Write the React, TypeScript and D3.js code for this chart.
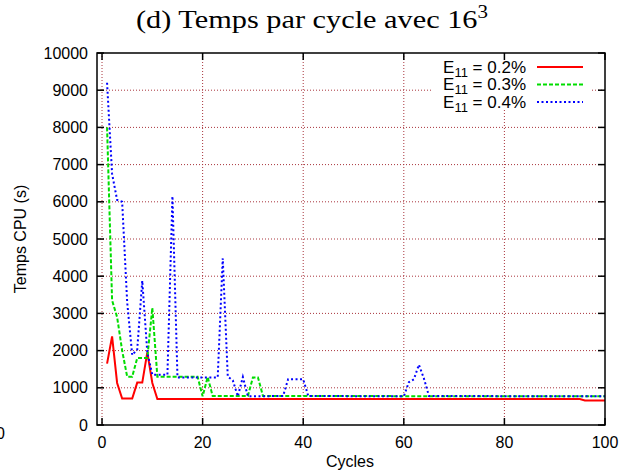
import React from 'react';
import * as d3 from 'd3';

// values (cycle, CPU seconds) at the break points of each curve
const redCycles = [1, 2, 3, 4, 6, 7, 8, 9, 10, 11, 95, 96, 100];
const redTimes = [1650, 2380, 1130, 710, 710, 1140, 1140, 1950, 1130, 700, 700, 660, 660];

const greenCycles = [1, 2, 3, 4, 5, 6, 7, 8, 9, 10, 11, 19, 20, 21, 22, 29, 30, 31, 32, 100];
const greenTimes = [8000, 3350, 2900, 2000, 1300, 1300, 1800, 1800, 1800, 3150, 1300, 1300, 770, 1290, 780, 780, 1280, 1280, 780, 770];

const blueCycles = [1, 2, 3, 4, 5, 6, 7, 8, 9, 10, 13, 14, 15, 23, 24, 25, 26, 27, 28, 29, 36, 37, 40, 41, 60, 61, 62, 63, 64, 65, 100];
const blueTimes = [9200, 6750, 6050, 6000, 3300, 1880, 2030, 3880, 1950, 1350, 1350, 6150, 1280, 1280, 4480, 1300, 1200, 770, 1290, 770, 780, 1230, 1230, 780, 770, 1150, 1230, 1620, 1250, 780, 770];

const xTicks = [0, 20, 40, 60, 80, 100];
const yTicks = [0, 1000, 2000, 3000, 4000, 5000, 6000, 7000, 8000, 9000, 10000];
const legendLabels = ['0.2%', '0.3%', '0.4%'];

const W = 633;
const H = 472;
const left = 97, right = 605, top = 53, bottom = 425;

const series = [
  { xs: redCycles, ys: redTimes, color: '#ff0000', dash: undefined as string | undefined, width: 2 },
  { xs: greenCycles, ys: greenTimes, color: '#00dd00', dash: '4,2', width: 2 },
  { xs: blueCycles, ys: blueTimes, color: '#0000ff', dash: '2,2.5', width: 2 },
];

export default function App() {
  const x = d3.scaleLinear().domain([-1, 100]).range([left, right]);
  const y = d3.scaleLinear().domain([0, 10000]).range([bottom, top]);
  const line = d3.line<[number, number]>().x(d => x(d[0])).y(d => y(d[1]));

  const sans = 'Liberation Sans, Arial, sans-serif';
  const gridColor = '#a8343c';

  return (
    <svg width={W} height={H} style={{ position: 'absolute', left: 0, top: 0, background: '#fff' }}>
      <rect x={0} y={0} width={W} height={H} fill="#fff" />

      {/* title */}
      <text x={312} y={28} textAnchor="middle" fontFamily="Liberation Serif, Times New Roman, serif" fontSize={26} fill="#000"
        textLength={352} lengthAdjust="spacingAndGlyphs">
        (d) Temps par cycle avec 16<tspan dy={-10} fontSize={18}>3</tspan>
      </text>

      {/* grid */}
      {yTicks.slice(1, -1).map(t => (
        <line key={'gy' + t} x1={left} x2={right} y1={y(t)} y2={y(t)} stroke={gridColor} strokeWidth={1} strokeDasharray="1,2" />
      ))}
      {xTicks.slice(0, -1).map(t => (
        <line key={'gx' + t} x1={x(t)} x2={x(t)} y1={top} y2={bottom} stroke={gridColor} strokeWidth={1} strokeDasharray="1,2" />
      ))}

      {/* curves */}
      {series.map((s, i) => (
        <path key={'s' + i} d={line(s.xs.map((c, j) => [c, s.ys[j]] as [number, number])) || ''}
          fill="none" stroke={s.color} strokeWidth={s.width} strokeDasharray={s.dash} strokeLinejoin="miter" />
      ))}

      {/* legend */}
      <rect x={432} y={56} width={160} height={54} fill="#fff" />
      {legendLabels.map((lab, i) => {
        const ly = 67 + i * 17.5;
        const s = series[i];
        return (
          <g key={'lg' + i}>
            <text x={526} y={ly + 5.5} textAnchor="end" fontFamily={sans} fontSize={17} fill="#000">
              E<tspan dy={4} fontSize={13}>11</tspan><tspan dy={-4}> = {lab}</tspan>
            </text>
            <line x1={537} x2={583} y1={ly} y2={ly} stroke={s.color} strokeWidth={s.width} strokeDasharray={s.dash} />
          </g>
        );
      })}

      {/* frame */}
      <rect x={left} y={top} width={right - left} height={bottom - top} fill="none" stroke="#000" strokeWidth={1.5} />

      {/* ticks */}
      {yTicks.map(t => (
        <g key={'ty' + t}>
          <line x1={left} x2={left + 7} y1={y(t)} y2={y(t)} stroke="#000" strokeWidth={1.5} />
          <line x1={right - 7} x2={right} y1={y(t)} y2={y(t)} stroke="#000" strokeWidth={1.5} />
          <text x={88} y={y(t) + 5.5} textAnchor="end" fontFamily={sans} fontSize={16} fill="#000">{t}</text>
        </g>
      ))}
      {xTicks.map(t => (
        <g key={'tx' + t}>
          <line x1={x(t)} x2={x(t)} y1={bottom} y2={bottom - 7} stroke="#000" strokeWidth={1.5} />
          <line x1={x(t)} x2={x(t)} y1={top} y2={top + 7} stroke="#000" strokeWidth={1.5} />
          <text x={x(t)} y={448} textAnchor="middle" fontFamily={sans} fontSize={16} fill="#000">{t}</text>
        </g>
      ))}

      {/* axis titles */}
      <text x={350} y={467} textAnchor="middle" fontFamily={sans} fontSize={16} fill="#000">Cycles</text>
      <text transform="translate(26,239) rotate(-90)" textAnchor="middle" fontFamily={sans} fontSize={16} fill="#000">Temps CPU (s)</text>

      {/* stray clipped label at the far left, as in the reference */}
      <text x={5} y={439} textAnchor="end" fontFamily={sans} fontSize={16} fill="#000">0</text>
    </svg>
  );
}
